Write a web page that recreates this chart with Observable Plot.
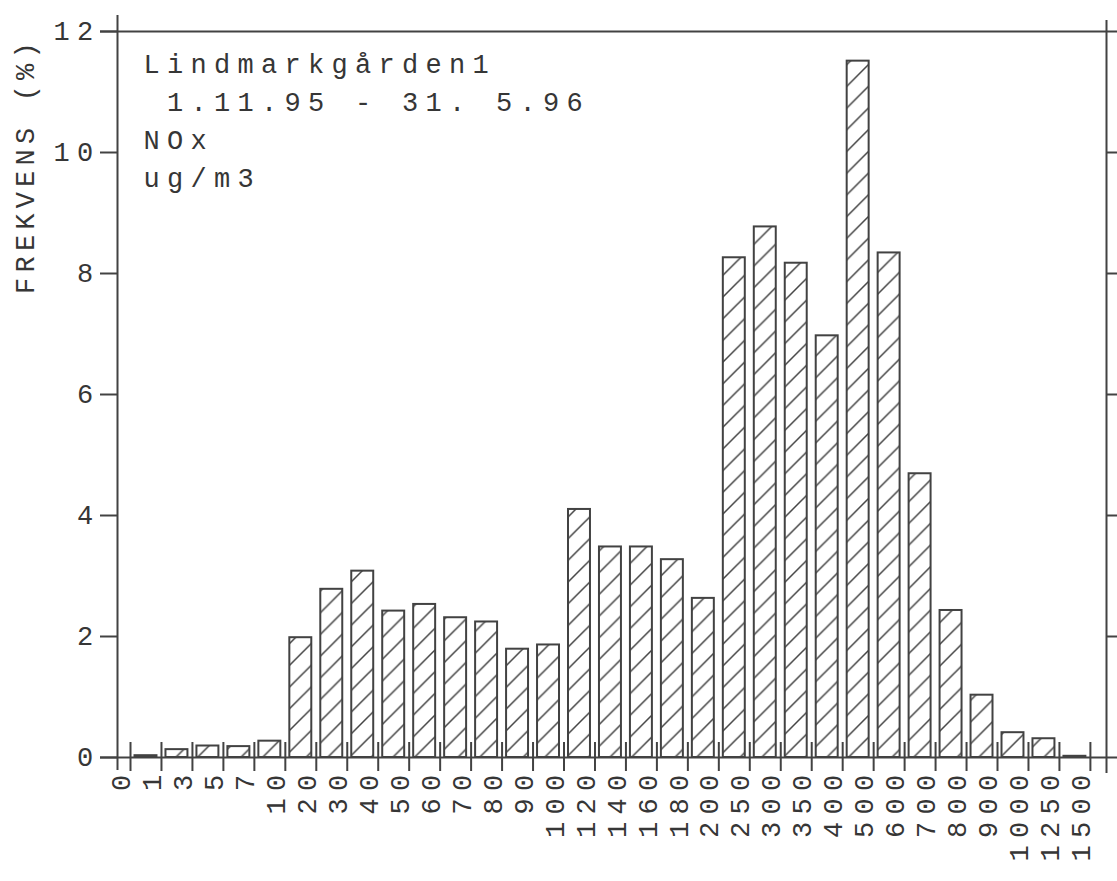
<!DOCTYPE html>
<html>
<head>
<meta charset="utf-8">
<script src="https://cdn.jsdelivr.net/npm/d3@7"></script>
<script src="https://cdn.jsdelivr.net/npm/@observablehq/plot@0.6"></script>
<style>
  html, body { margin: 0; padding: 0; background: #fff; }
  svg text { white-space: pre; }
</style>
</head>
<body>
<div id="chart"></div>
<script>
// Bin edge labels (µg/m3 classes)
const edgeLabels = ["0","1","3","5","7","10","20","30","40","50","60","70","80","90","100",
  "120","140","160","180","200","250","300","350","400","500","600","700","800","900","1000","1250","1500"];
// Frequency (%) per class between consecutive edges
const frekvens = [0.03, 0.13, 0.19, 0.18, 0.27, 1.98, 2.78, 3.08, 2.42, 2.53, 2.31, 2.24, 1.79, 1.86,
  4.10, 3.48, 3.48, 3.27, 2.63, 8.26, 8.77, 8.17, 6.97, 11.51, 8.34, 4.69, 2.43, 1.03, 0.41, 0.31, 0.02];
const yTicks = [0, 2, 4, 6, 8, 10, 12];
const yTitle = "FREKVENS (%)";
const annotationLines = ["Lindmarkgården1", " 1.11.95 - 31. 5.96", "NOx", "ug/m3"];

const ink = "#424242";
const xDomain = [-0.42, 31.52];
const bars = frekvens.map((v, i) => ({i, v}));

const svg = Plot.plot({
  width: 1117,
  height: 881,
  marginLeft: 117,
  marginRight: 11,
  marginTop: 31,
  marginBottom: 124,
  x: {domain: xDomain, axis: null},
  y: {domain: [0, 12], axis: null},
  style: {
    fontFamily: "'Liberation Mono', 'DejaVu Sans Mono', monospace",
    fontSize: "27px",
    letterSpacing: "7.3px",
    color: "#363636",
    background: "#fff"
  },
  marks: [
    Plot.rectY(bars, {x1: "i", x2: d => d.i + 1, y: "v", insetLeft: 4.5, insetRight: 4.5,
      fill: "url(#hatch)", stroke: ink, strokeWidth: 2}),
    Plot.ruleX(edgeLabels, {x: (d, i) => i, y1: 0, y2: 0, insetTop: -15, insetBottom: -14,
      stroke: ink, strokeWidth: 2}),
    Plot.ruleY([0, 12], {insetLeft: -17, insetRight: -11, stroke: ink, strokeWidth: 2}),
    Plot.ruleX([xDomain[0]], {insetTop: -16, insetBottom: -13, stroke: ink, strokeWidth: 2}),
    Plot.ruleX([xDomain[1]], {insetTop: -11, insetBottom: -16, stroke: ink, strokeWidth: 2}),
    Plot.axisY({ticks: yTicks, anchor: "left", label: null, tickSize: 17, tickPadding: 0,
      strokeWidth: 2, stroke: ink}),
    Plot.axisY({ticks: yTicks.slice(1, -1), anchor: "right", label: null, tickSize: 11,
      tickFormat: () => "", strokeWidth: 2, stroke: ink}),
    Plot.text(edgeLabels, {x: (d, i) => i, y: 0, text: d => d, rotate: -90, textAnchor: "end",
      lineAnchor: "middle", dx: -9, dy: 10}),
    Plot.text([yTitle], {frameAnchor: "top-left", text: d => d, rotate: -90, textAnchor: "middle",
      lineAnchor: "middle", dx: -92, dy: 134}),
    Plot.text([annotationLines.join("\n")], {frameAnchor: "top-left", text: d => d, textAnchor: "start",
      lineAnchor: "top", lineHeight: 38 / 27, dx: 26, dy: 14.8})
  ]
});

// tighter spacing for the vertical axis title
d3.select(svg).selectAll("text")
  .filter(function() { return this.textContent === yTitle; })
  .style("letter-spacing", "5.2px");

// hatch pattern for bars
const s = 21.7;
const defs = d3.select(svg).insert("defs", ":first-child");
const pat = defs.append("pattern")
  .attr("id", "hatch")
  .attr("patternUnits", "userSpaceOnUse")
  .attr("width", s).attr("height", s);
pat.append("rect").attr("width", s).attr("height", s).attr("fill", "#fff");
pat.append("path")
  .attr("d", `M${-s/4},${s/4} L${s/4},${-s/4} M0,${s} L${s},0 M${3*s/4},${5*s/4} L${5*s/4},${3*s/4}`)
  .attr("stroke", ink).attr("stroke-width", 1.5).attr("fill", "none");

document.getElementById("chart").appendChild(svg);
</script>
</body>
</html>
